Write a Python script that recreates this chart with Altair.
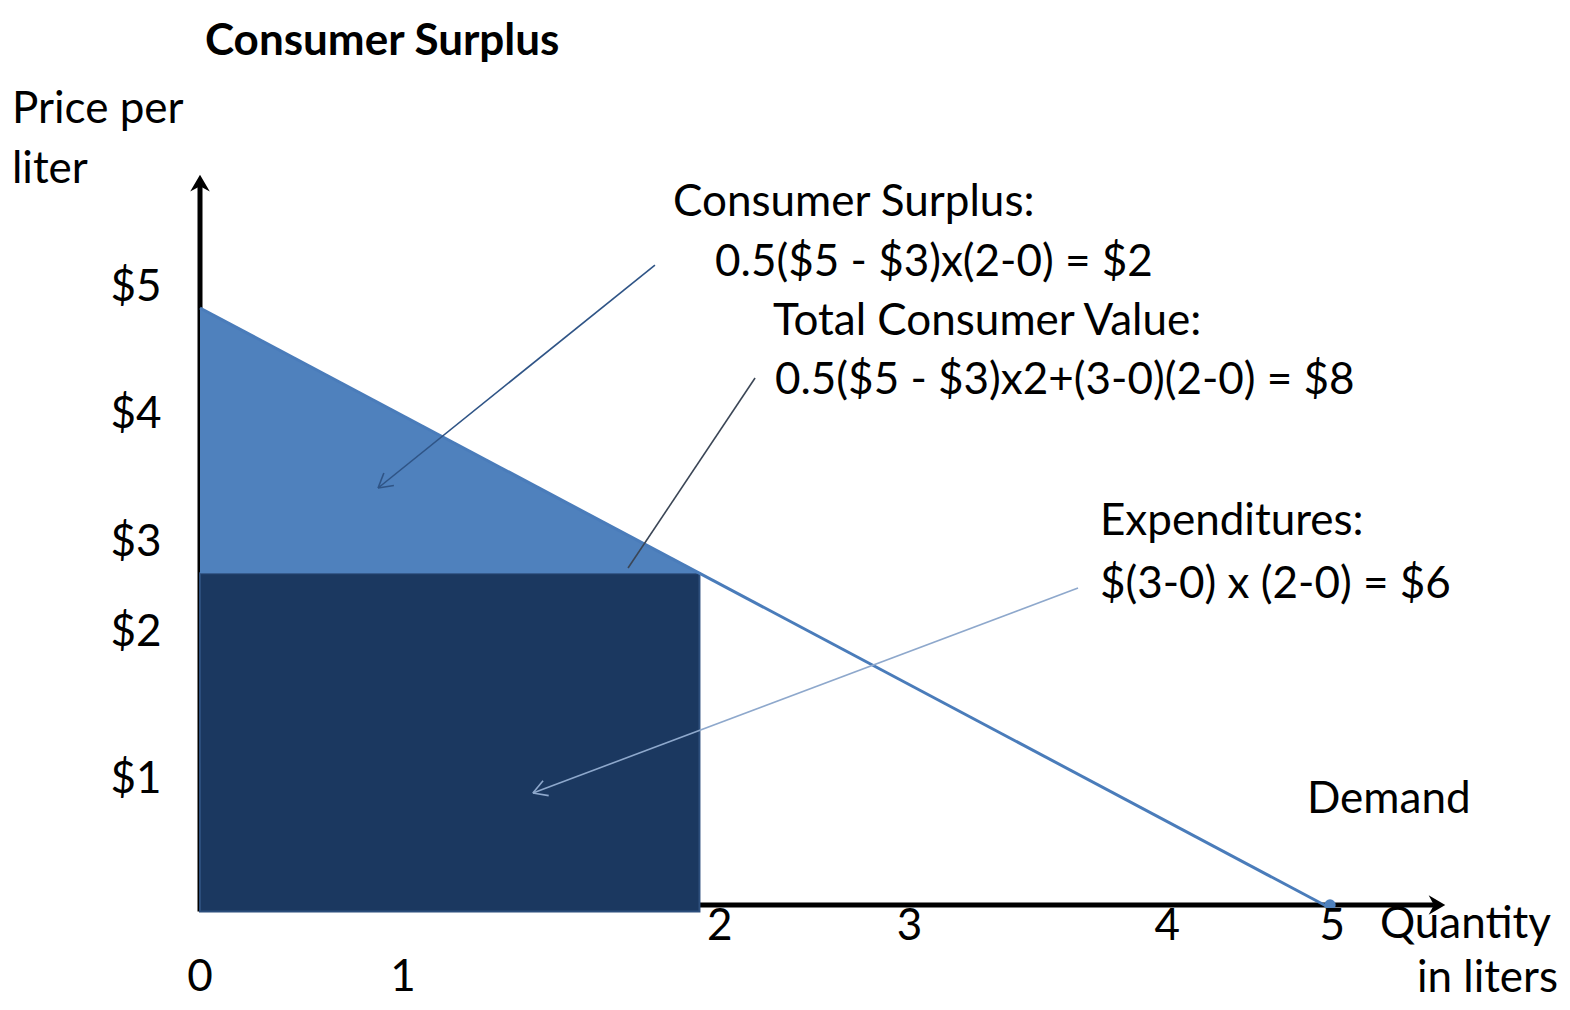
import math
import altair as alt
import pandas as pd

# ---------------- data (chart units: quantity in liters, price in $) -------------
# Demand curve as drawn
DEMAND_Q = [0.0, 5.0]
DEMAND_P = [5.0, 0.0]
# Market point as drawn (corner of the expenditure rectangle)
Q_STAR = 2.21
P_STAR = 2.79
RECT_BOTTOM = -0.03

# Axes as drawn
X_AXIS_END = 5.51
Y_AXIS_TOP = 6.11
X_AXIS_P = 0.025

# Tick labels
Y_TICK_LABELS = ["$5", "$4", "$3", "$2", "$1"]
Y_TICK_POS = [5.17, 4.11, 3.04, 2.29, 1.07]
X_TICK_LABELS_LOW = ["0", "1"]
X_TICK_POS_LOW = [0.0, 0.898]
X_TICK_LABELS_HIGH = ["2", "3", "4", "5"]
X_TICK_POS_HIGH = [2.30, 3.14, 4.28, 5.01]

# Annotation texts (left aligned)
NOTE_TEXTS = ["Consumer Surplus:", "0.5($5 - $3)x(2-0) = $2", "Total Consumer Value:",
              "0.5($5 - $3)x2+(3-0)(2-0) = $8", "Expenditures:", "$(3-0) x (2-0) = $6",
              "Demand", "Quantity", "Price per", "liter"]
NOTE_Q = [2.093, 2.279, 2.535, 2.544, 3.982, 3.982, 4.898, 5.221, -0.832, -0.832]
NOTE_P = [5.875, 5.375, 4.883, 4.392, 3.217, 2.692, 0.90, -0.142, 6.65, 6.15]

# Annotation arrows: start q, start p, end q, end p, colour, head?
ARROW_Q1 = [2.013, 2.456, 3.885]
ARROW_P1 = [5.358, 4.417, 2.667]
ARROW_Q2 = [0.788, 1.894, 1.473]
ARROW_P2 = [3.50, 2.833, 0.958]
ARROW_COLOR = ["#2f5486", "#3b4656", "#8ea8cc"]
ARROW_HEAD = [True, False, True]

TITLE = "Consumer Surplus"

# ---------------- scales -------------------------------------------------------
W, H = 1554, 994
XMIN, XMAX = -192 / 226, (W - 192) / 226
YMIN = -0.75 - (H - 990) / 120
YMAX = 7.5
UX = W / (XMAX - XMIN)
UY = H / (YMAX - YMIN)

xs = alt.Scale(domain=[XMIN, XMAX], nice=False, zero=False)
ys = alt.Scale(domain=[YMIN, YMAX], nice=False, zero=False)
FONT = "Lato"
FS = 44

# ---------------- build tables -------------------------------------------------
segs = []
for q1, p1, q2, p2, c, head in zip(ARROW_Q1, ARROW_P1, ARROW_Q2, ARROW_P2, ARROW_COLOR, ARROW_HEAD):
    segs.append(dict(q=q1, p=p1, q2=q2, p2=p2, c=c))
    if head:
        dx, dy = (q2 - q1) * UX, (p2 - p1) * UY
        n = math.hypot(dx, dy)
        bx, by = -dx / n, -dy / n
        for s in (1, -1):
            a = math.radians(30 * s)
            rx = bx * math.cos(a) - by * math.sin(a)
            ry = bx * math.sin(a) + by * math.cos(a)
            segs.append(dict(q=q2, p=p2, q2=q2 + 16 * rx / UX, p2=p2 + 16 * ry / UY, c=c))
seg_df = pd.DataFrame(segs)

axes_df = pd.DataFrame([
    dict(q=0.0, p=RECT_BOTTOM, q2=0.0, p2=Y_AXIS_TOP - 0.05),
    dict(q=0.0, p=X_AXIS_P, q2=X_AXIS_END - 0.05, p2=X_AXIS_P),
])
heads_df = pd.DataFrame([
    dict(q=0.0, p=Y_AXIS_TOP, ang=0),
    dict(q=X_AXIS_END, p=X_AXIS_P, ang=90),
])

rect_df = pd.DataFrame([dict(q=0.0, q2=Q_STAR, p=RECT_BOTTOM, p2=P_STAR)])
tri_df = pd.DataFrame(dict(q=[0.0, Q_STAR], p=[DEMAND_P[0], P_STAR], base=[P_STAR, P_STAR]))
demand_df = pd.DataFrame([dict(q=DEMAND_Q[0], p=DEMAND_P[0], q2=DEMAND_Q[1], p2=DEMAND_P[1])])
dot_df = pd.DataFrame([dict(q=DEMAND_Q[1], p=X_AXIS_P)])

ytick_df = pd.DataFrame(dict(t=Y_TICK_LABELS, q=[-0.17] * 5, p=Y_TICK_POS))
xtick_df = pd.DataFrame(dict(t=X_TICK_LABELS_LOW + X_TICK_LABELS_HIGH,
                             q=X_TICK_POS_LOW + X_TICK_POS_HIGH,
                             p=[-0.58] * 2 + [-0.16] * 4))
note_df = pd.DataFrame(dict(t=NOTE_TEXTS, q=NOTE_Q, p=NOTE_P))
liters_df = pd.DataFrame(dict(t=["in liters"], q=[6.009], p=[-0.59]))
title_df = pd.DataFrame(dict(t=[TITLE], q=[0.022], p=[7.22]))

X = lambda f="q": alt.X(f"{f}:Q", scale=xs, axis=None)
Y = lambda f="p": alt.Y(f"{f}:Q", scale=ys, axis=None)

axes = alt.Chart(axes_df).mark_rule(color="black", strokeWidth=5).encode(
    x=X(), y=Y(), x2="q2:Q", y2="p2:Q")
heads = alt.Chart(heads_df).mark_point(
    shape="M0,0L0.62,1.05L0,0.72L-0.62,1.05Z", filled=True, color="black", opacity=1, size=1000
).encode(x=X(), y=Y(), angle=alt.Angle("ang:Q", scale=None))

rect = alt.Chart(rect_df).mark_rect(color="#1b3860", stroke="#2c4e7c", strokeWidth=2).encode(
    x=X(), x2="q2:Q", y=Y(), y2="p2:Q")
tri = alt.Chart(tri_df).mark_area(color="#4f81bd", opacity=1).encode(
    x=X(), y=Y(), y2="base:Q")
demand = alt.Chart(demand_df).mark_rule(color="#4a7cba", strokeWidth=3).encode(
    x=X(), y=Y(), x2="q2:Q", y2="p2:Q")
dot = alt.Chart(dot_df).mark_point(filled=True, color="#4f81bd", opacity=1, size=130, shape="circle").encode(
    x=X(), y=Y())

arrows = alt.Chart(seg_df).mark_rule(strokeWidth=1.6).encode(
    x=X(), y=Y(), x2="q2:Q", y2="p2:Q", color=alt.Color("c:N", scale=None))

txt = dict(font=FONT, fontSize=FS, color="black", baseline="middle")
yticks = alt.Chart(ytick_df).mark_text(align="right", **txt).encode(x=X(), y=Y(), text="t:N")
xticks = alt.Chart(xtick_df).mark_text(align="center", **txt).encode(x=X(), y=Y(), text="t:N")
notes = alt.Chart(note_df).mark_text(align="left", **txt).encode(x=X(), y=Y(), text="t:N")
liters = alt.Chart(liters_df).mark_text(align="right", **txt).encode(x=X(), y=Y(), text="t:N")
title = alt.Chart(title_df).mark_text(
    align="left", fontWeight="bold", font=FONT, fontSize=44, color="black", baseline="middle"
).encode(x=X(), y=Y(), text="t:N")

chart = alt.layer(
    axes, heads, rect, tri, demand, dot, arrows, yticks, xticks, notes, liters, title
).properties(
    width=W, height=H, autosize=alt.AutoSizeParams(type="none"), padding=0
).configure(background="white", view=alt.ViewConfig(stroke=None))

chart.save("out.html", embed_options={"renderer": "svg", "actions": False})
